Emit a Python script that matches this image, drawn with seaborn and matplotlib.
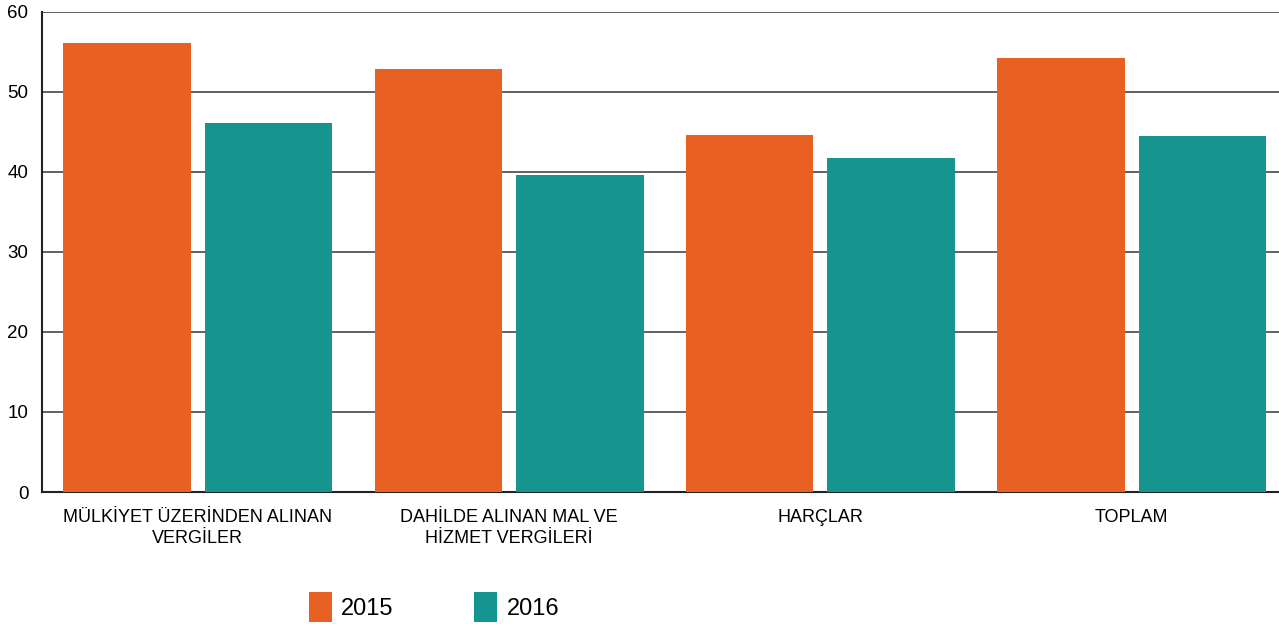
import matplotlib
matplotlib.use("Agg")
import matplotlib.pyplot as plt
import seaborn as sns
import pandas as pd
from matplotlib.patches import Patch

# Values
categories = [
    "MÜLKİYET ÜZERİNDEN ALINAN\nVERGİLER",
    "DAHİLDE ALINAN MAL VE\nHİZMET VERGİLERİ",
    "HARÇLAR",
    "TOPLAM",
]
years = ["2015", "2016"]
values_2015 = [56.1, 52.9, 44.6, 54.25]
values_2016 = [46.1, 39.6, 41.75, 44.5]
yticks = [0, 10, 20, 30, 40, 50, 60]

colors = {"2015": "#E86123", "2016": "#169490"}

df = pd.DataFrame({
    "category": categories * 2,
    "year": ["2015"] * 4 + ["2016"] * 4,
    "value": values_2015 + values_2016,
})

sns.set_style("white")
plt.rcParams["font.family"] = ["Liberation Sans", "DejaVu Sans"]
plt.rcParams["text.color"] = "black"
plt.rcParams["xtick.color"] = "black"
plt.rcParams["ytick.color"] = "black"

fig = plt.figure(figsize=(12.79, 6.24), dpi=100)
# axes runs a little past the right edge, as in the reference
ax = fig.add_axes([0.033, 0.2115, 0.9735, 0.7695])

sns.barplot(
    data=df, x="category", y="value", hue="year", hue_order=years,
    palette=colors, width=0.91, gap=0.1, saturation=1, linewidth=0,
    legend=False, ax=ax, zorder=3,
)

ax.set_ylim(0, 60)
ax.set_xlim(-0.5, 3.5)
ax.set_yticks(yticks)
ax.yaxis.grid(True, color="#555555", linewidth=1.3, zorder=0)
ax.set_axisbelow(True)
ax.set_xlabel("")
ax.set_ylabel("")
ax.tick_params(axis="y", labelsize=13.5, length=0, pad=10)
ax.tick_params(axis="x", labelsize=13, length=0, pad=12)
for lbl in ax.get_xticklabels():
    lbl.set_linespacing(1.3)

for side in ["top", "right"]:
    ax.spines[side].set_visible(False)
for side in ["left", "bottom"]:
    ax.spines[side].set_color("#222222")
    ax.spines[side].set_linewidth(1.5)

handles = [Patch(facecolor=colors[y], edgecolor="none") for y in years]
fig.legend(
    handles, years, loc="lower left", bbox_to_anchor=(0.225, -0.031),
    ncol=2, frameon=False, fontsize=17, handlelength=0.97, handleheight=1.6,
    handletextpad=0.4, columnspacing=3.4,
)

fig.savefig("out.png", dpi=100)
plt.close(fig)
